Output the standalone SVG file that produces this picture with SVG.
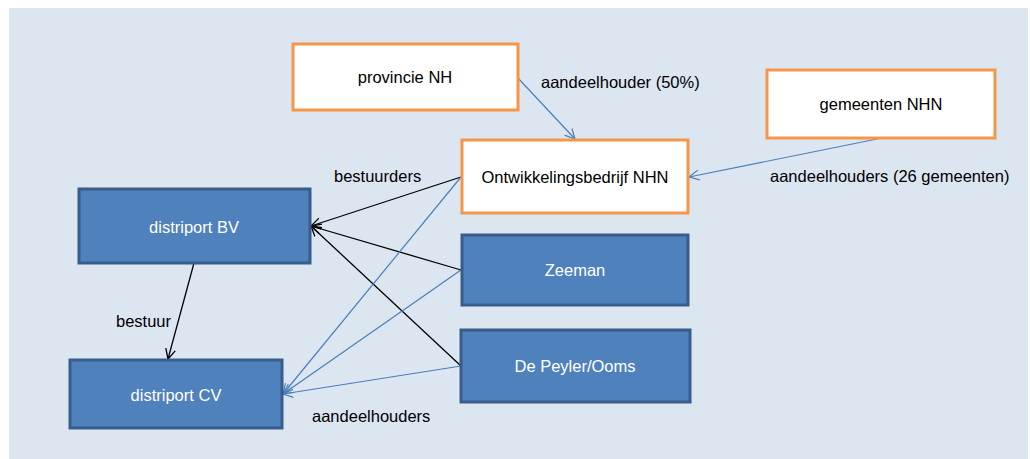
<svg xmlns="http://www.w3.org/2000/svg" width="1030" height="459" viewBox="0 0 1030 459">
<defs>
<style>
.t{font-family:"Liberation Sans",Arial,sans-serif;font-size:16.5px;fill:#000}
.w{fill:#fff;text-anchor:middle}
.m{text-anchor:middle}
.org{fill:#fff;stroke:#f79646;stroke-width:3}
.blu{fill:#4f81bd;stroke:#385d8a;stroke-width:3}
.cb{stroke:#4a7ebb;stroke-width:1.2;fill:none;marker-end:url(#ab)}
.ck{stroke:#000;stroke-width:1.3;fill:none;marker-end:url(#ak)}
</style>
<marker id="ab" markerWidth="12" markerHeight="12" refX="10" refY="5" orient="auto" markerUnits="userSpaceOnUse" viewBox="0 0 12 10">
<path d="M0,0 L10,5 L0,10" fill="none" stroke="#4a7ebb" stroke-width="1.2"/>
</marker>
<marker id="ak" markerWidth="12" markerHeight="12" refX="10" refY="5" orient="auto" markerUnits="userSpaceOnUse" viewBox="0 0 12 10">
<path d="M0,0 L10,5 L0,10" fill="none" stroke="#000" stroke-width="1.3"/>
</marker>
</defs>
<rect x="0" y="0" width="1030" height="459" fill="#fff"/>
<rect x="9" y="8" width="1019" height="451" fill="#dce6f0"/>
<g id="connectors">
<line class="cb" x1="517" y1="77" x2="575" y2="139"/>
<line class="cb" x1="882" y1="138" x2="689" y2="177"/>
<line class="ck" x1="461" y1="177" x2="311" y2="226"/>
<line class="ck" x1="461" y1="270" x2="311" y2="226"/>
<line class="ck" x1="461" y1="366" x2="311" y2="226"/>
<line class="ck" x1="194" y1="263" x2="168" y2="359"/>
<line class="cb" x1="461" y1="177" x2="283" y2="394"/>
<line class="cb" x1="461" y1="270" x2="283" y2="394"/>
<line class="cb" x1="461" y1="366" x2="283" y2="394"/>
</g>
<g id="labels">
<text class="t" x="541" y="88">aandeelhouder (50%)</text>
<text class="t" x="334" y="182">bestuurders</text>
<text class="t" x="770" y="182">aandeelhouders (26 gemeenten)</text>
<text class="t" x="116" y="327">bestuur</text>
<text class="t" x="312" y="422">aandeelhouders</text>
</g>
<g id="provincie">
<rect class="org" x="293" y="44" width="225" height="66"/>
<text class="t m" x="405" y="83">provincie NH</text>
</g>
<g id="gemeenten">
<rect class="org" x="767" y="70" width="228" height="68"/>
<text class="t m" x="881" y="110">gemeenten NHN</text>
</g>
<g id="ontwikkelingsbedrijf">
<rect class="org" x="462" y="140" width="226" height="73"/>
<text class="t m" x="575" y="183">Ontwikkelingsbedrijf NHN</text>
</g>
<g id="distriportBV">
<rect class="blu" x="79" y="189" width="231" height="74"/>
<text class="t w" x="194" y="233">distriport BV</text>
</g>
<g id="zeeman">
<rect class="blu" x="462" y="235" width="226" height="70"/>
<text class="t w" x="575" y="276">Zeeman</text>
</g>
<g id="depeyler">
<rect class="blu" x="461" y="330" width="229" height="72"/>
<text class="t w" x="575" y="372">De Peyler/Ooms</text>
</g>
<g id="distriportCV">
<rect class="blu" x="70" y="360" width="212" height="68"/>
<text class="t w" x="176" y="401">distriport CV</text>
</g>
</svg>
